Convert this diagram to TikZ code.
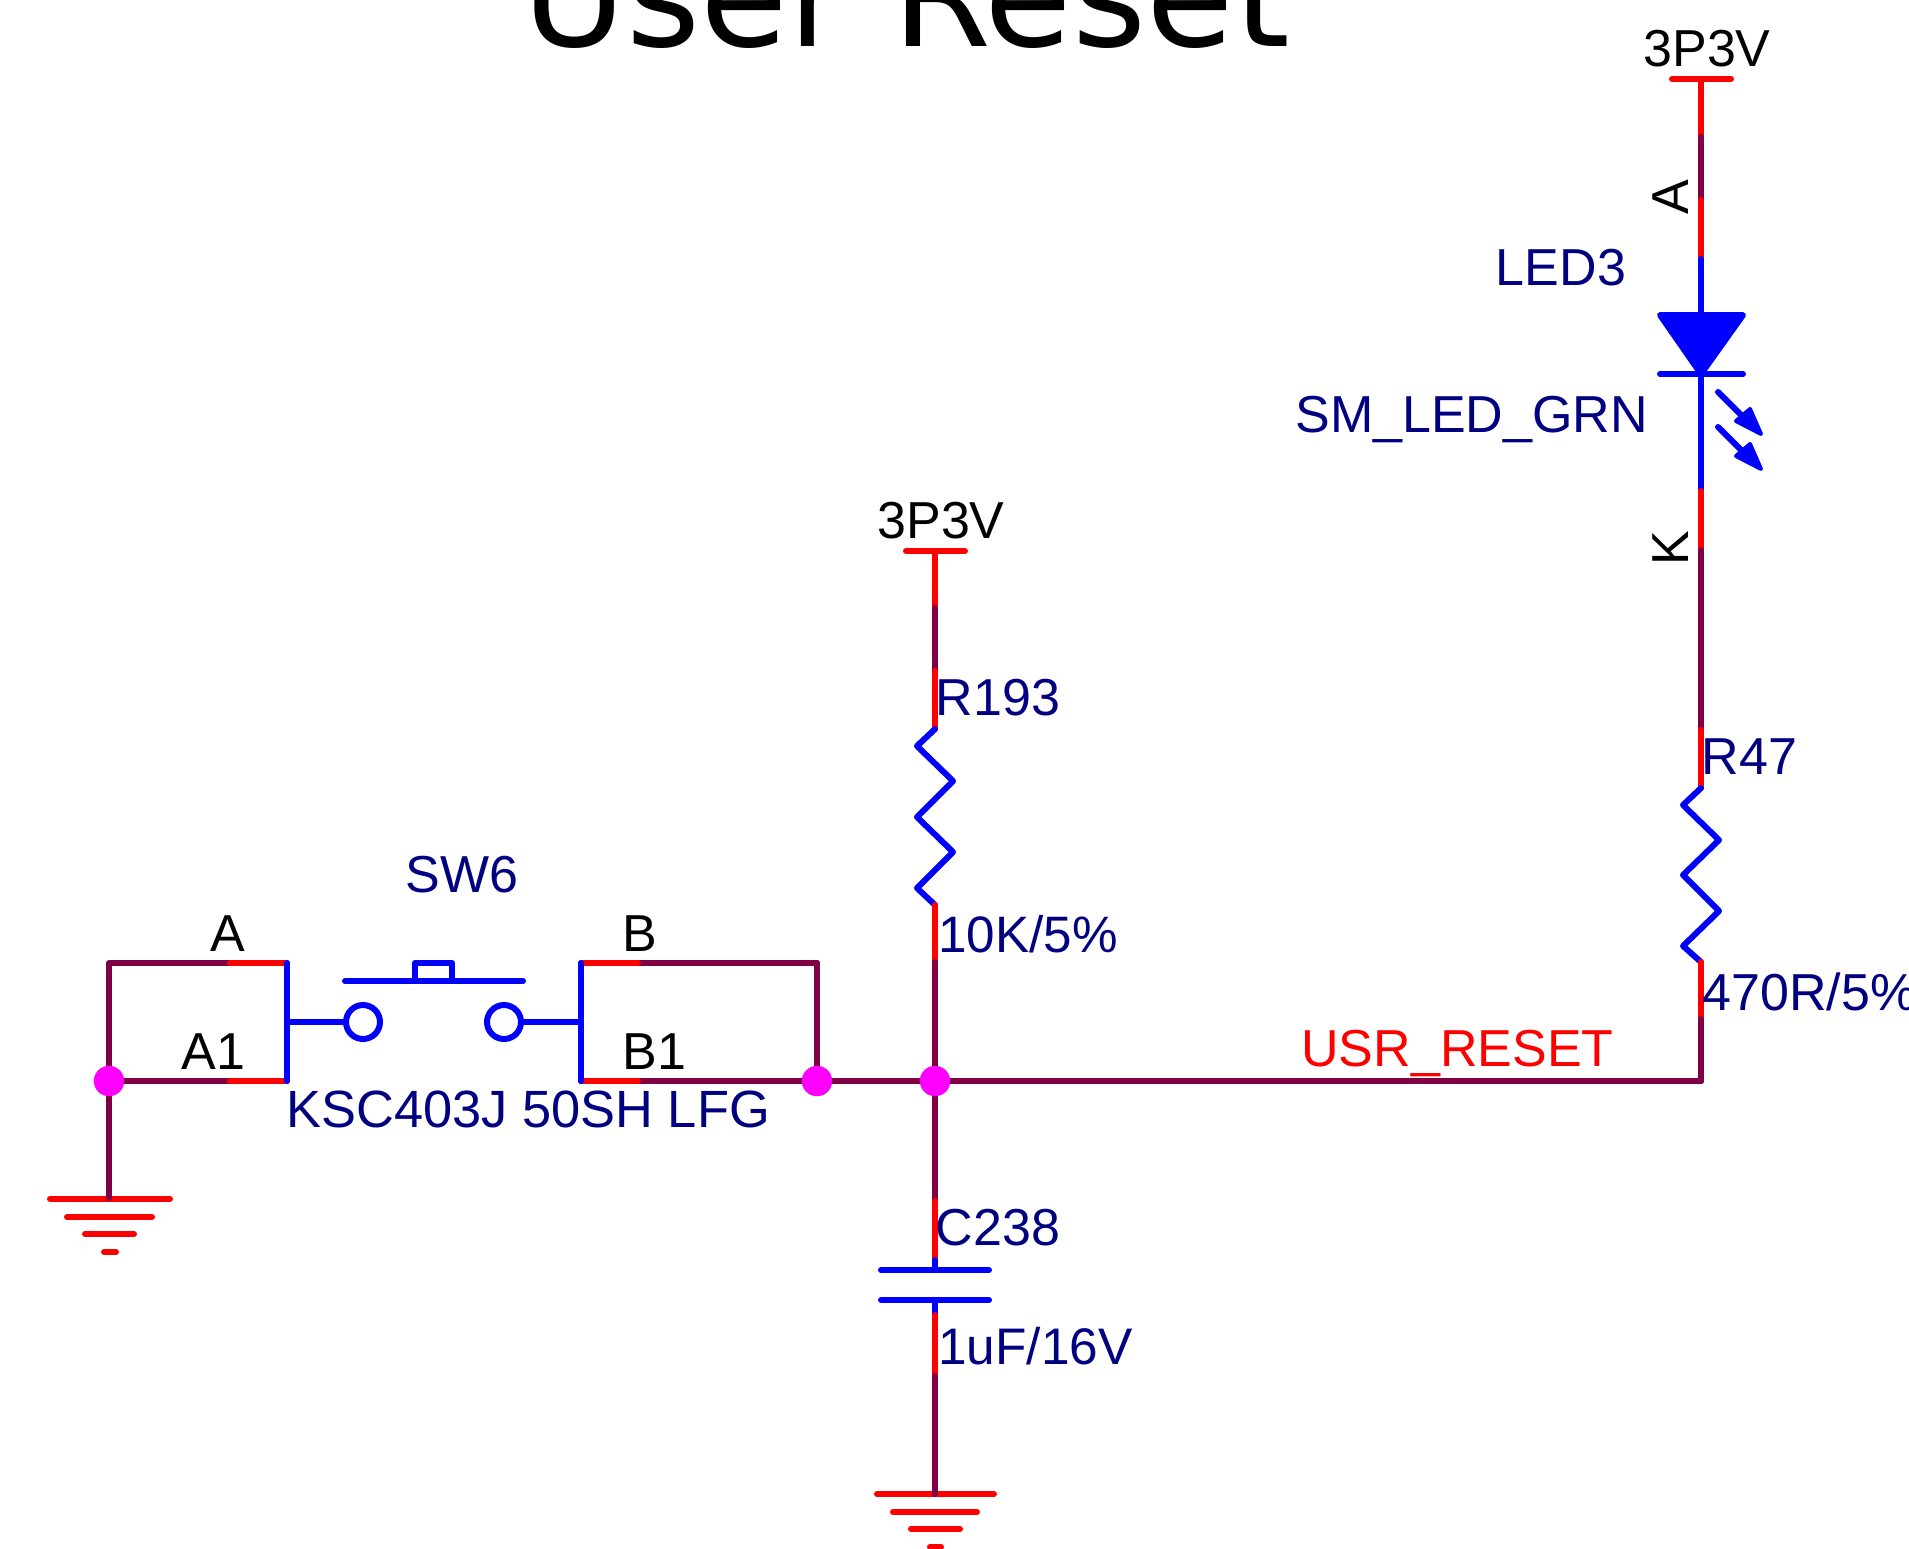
\documentclass[tikz,border=0pt]{standalone}
\usepackage{fontspec}
\setmainfont{Liberation Sans}
\newfontfamily\titlefont{DejaVu Sans}
\definecolor{wirep}{HTML}{7F0045}
\definecolor{pinr}{HTML}{FF0000}
\definecolor{symb}{HTML}{0000FF}
\definecolor{desig}{HTML}{000080}
\definecolor{junc}{HTML}{FF00FF}
\tikzset{
  wire/.style={draw=wirep,line width=3pt,line cap=round,line join=round},
  pin/.style={draw=pinr,line width=3pt,line cap=round},
  sym/.style={draw=symb,line width=3pt,line cap=round,line join=round},
  lab/.style={anchor=base west,inner sep=0pt,font=\fontsize{26}{26}\selectfont},
  desiglab/.style={lab,text=desig},
  pinlab/.style={lab,text=black},
  netlab/.style={lab,text=pinr},
  dotj/.style={circle,fill=junc,minimum size=15.2pt,inner sep=0pt},
}
\begin{document}
\begin{tikzpicture}[x=0.5pt,y=-0.5pt]
\useasboundingbox (0,0) rectangle (1909,1548);

% title
\node[anchor=base west,inner sep=0pt,text=black,font=\fontsize{71.2}{71.2}\selectfont\titlefont] (title) at (522,46) {User Reset};

% junctions
\coordinate (jL) at (109,1081);
\coordinate (jB) at (817,1081);
\coordinate (jM) at (935,1081);
\coordinate (jR) at (1701,1081);

% ---- LED branch
\coordinate (vccR) at (1701,79);
\coordinate (vccRa) at (1672,79);
\coordinate (vccRb) at (1731,79);
\coordinate (a1) at (1701,137);
\coordinate (a2) at (1701,200);
\coordinate (a3) at (1701,259);
\coordinate (a4) at (1701,315);
\coordinate (a5) at (1701,374);
\coordinate (k1) at (1701,491);
\coordinate (k2) at (1701,550);
\coordinate (r1) at (1701,730);
\coordinate (r2) at (1701,788);
\coordinate (r3) at (1701,962);
\coordinate (r4) at (1701,1019);

\draw[pin] (vccRa) -- (vccRb);
\draw[pin] (vccR) -- (a1);
\draw[wire] (a1) -- (a2);
\draw[pin] (a2) -- (a3);
\draw[sym] (a3) -- (a4);
\draw[sym,fill=symb] (1660,315) -- (1743,315) -- (a5) -- cycle;
\draw[sym] (1660,374) -- (1743,374);
\draw[sym] (a5) -- (k1);
\draw[pin] (k1) -- (k2);
\draw[wire] (k2) -- (r1);
\draw[pin] (r1) -- (r2);
\draw[sym] (r2) -- (1683,805) -- (1719,840) -- (1683,875) -- (1719,911) -- (1683,946) -- (r3);
\draw[pin] (r3) -- (r4);
\draw[wire] (r4) -- (jR);

% light arrows
\draw[sym] (1718,392) -- (1743,417);
\draw[sym,line width=2pt,fill=symb] (1736,421) -- (1750,409) -- (1761,434) -- cycle;
\draw[sym] (1718,427) -- (1743,452);
\draw[sym,line width=2pt,fill=symb] (1736,456) -- (1750,444) -- (1761,469) -- cycle;

% ---- middle branch
\coordinate (vccM) at (935,551);
\coordinate (vccMa) at (906,551);
\coordinate (vccMb) at (965,551);
\coordinate (m1) at (935,608);
\coordinate (m2) at (935,671);
\coordinate (m3) at (935,729);
\coordinate (m4) at (935,905);
\coordinate (m5) at (935,962);
\coordinate (c1) at (935,1201);
\coordinate (c2) at (935,1260);
\coordinate (c3) at (935,1270);
\coordinate (c4) at (935,1300);
\coordinate (c5) at (935,1315);
\coordinate (c6) at (935,1376);
\coordinate (gM) at (935,1494);

\draw[pin] (vccMa) -- (vccMb);
\draw[pin] (vccM) -- (m1);
\draw[wire] (m1) -- (m2);
\draw[pin] (m2) -- (m3);
\draw[sym] (m3) -- (917,746) -- (953,781) -- (917,817) -- (953,852) -- (917,888) -- (m4);
\draw[pin] (m4) -- (m5);
\draw[wire] (m5) -- (jM);
\draw[pin] (877,1494) -- (994,1494);
\draw[wire] (jM) -- (c1);
\draw[pin] (c1) -- (c2);
\draw[sym] (c2) -- (c3);
\draw[sym] (881,1270) -- (989,1270);
\draw[sym] (881,1300) -- (989,1300);
\draw[sym] (c4) -- (c5);
\draw[pin] (c5) -- (c6);
\draw[wire] (c6) -- (gM);
\draw[pin] (893,1512) -- (977,1512);
\draw[pin] (911,1529) -- (960,1529);
\draw[pin] (930,1547) -- (941,1547);

% ---- switch
\coordinate (ltop) at (109,963);
\coordinate (gL) at (109,1198);
\coordinate (at) at (230,963);
\coordinate (ab) at (230,1081);
\coordinate (st) at (287,963);
\coordinate (sb) at (287,1081);
\coordinate (sm) at (287,1022);
\coordinate (tt) at (581,963);
\coordinate (tb) at (581,1081);
\coordinate (tm) at (581,1022);
\coordinate (bt) at (638,963);
\coordinate (bb) at (638,1081);
\coordinate (rtop) at (817,963);

\draw[pin] (50,1199) -- (170,1199);
\draw[pin] (67,1217) -- (152,1217);
\draw[pin] (85,1234) -- (134,1234);
\draw[pin] (104,1252) -- (116,1252);
\draw[wire] (jL) -- (ltop) -- (at);
\draw[wire] (jL) -- (gL);
\draw[wire] (jL) -- (ab);
\draw[wire] (bb) -- (jR);
\draw[wire] (rtop) -- (bt);
\draw[wire] (rtop) -- (jB);
\draw[pin] (at) -- (st);
\draw[pin] (ab) -- (sb);
\draw[pin] (tt) -- (bt);
\draw[pin] (tb) -- (bb);
\draw[sym] (st) -- (sb);
\draw[sym] (tt) -- (tb);
\draw[sym] (sm) -- (345,1022);
\draw[sym] (363,1022) circle[radius=17];
\draw[sym] (504,1022) circle[radius=17];
\draw[sym] (522,1022) -- (tm);
\draw[sym] (345,981) -- (523,981);
\draw[sym] (415,981) -- (415,963) -- (452,963) -- (452,981);

\node[dotj] (dL) at (jL) {};
\node[dotj] (dB) at (jB) {};
\node[dotj] (dM) at (jM) {};

% ---- texts
\node[pinlab] (t1) at (1643,66) {3P3V};
\node[pinlab] (t2) at (877,538) {3P3V};
\node[pinlab,rotate=90] (tA) at (1688,215) {A};
\node[pinlab,rotate=90] (tK) at (1688,566) {K};
\node[desiglab] (t3) at (1495.5,285) {LED3};
\node[desiglab] (t4) at (1295,432) {SM\_LED\_GRN};
\node[desiglab] (t5) at (1701.5,774) {R47};
\node[desiglab] (t6) at (1702,1010) {470R/5\%};
\node[desiglab] (t7) at (935.5,715) {R193};
\node[desiglab,font=\fontsize{25.6}{26}\selectfont] (t8) at (938,952) {10K/5\%};
\node[netlab] (t9) at (1301,1066) {USR\_RESET};
\node[desiglab] (t10) at (405,892) {SW6};
\node[pinlab] (t11) at (210.5,951) {A};
\node[pinlab] (t12) at (181,1069) {A1};
\node[pinlab] (t13) at (622,951) {B};
\node[pinlab] (t14) at (622,1069) {B1};
\node[desiglab,font=\fontsize{26.2}{26}\selectfont] (t15) at (286,1127) {KSC403J 50SH LFG};
\node[desiglab] (t16) at (935.5,1245) {C238};
\node[desiglab,font=\fontsize{25.7}{26}\selectfont] (t17) at (938,1364) {1uF/16V};
\end{tikzpicture}
\end{document}
